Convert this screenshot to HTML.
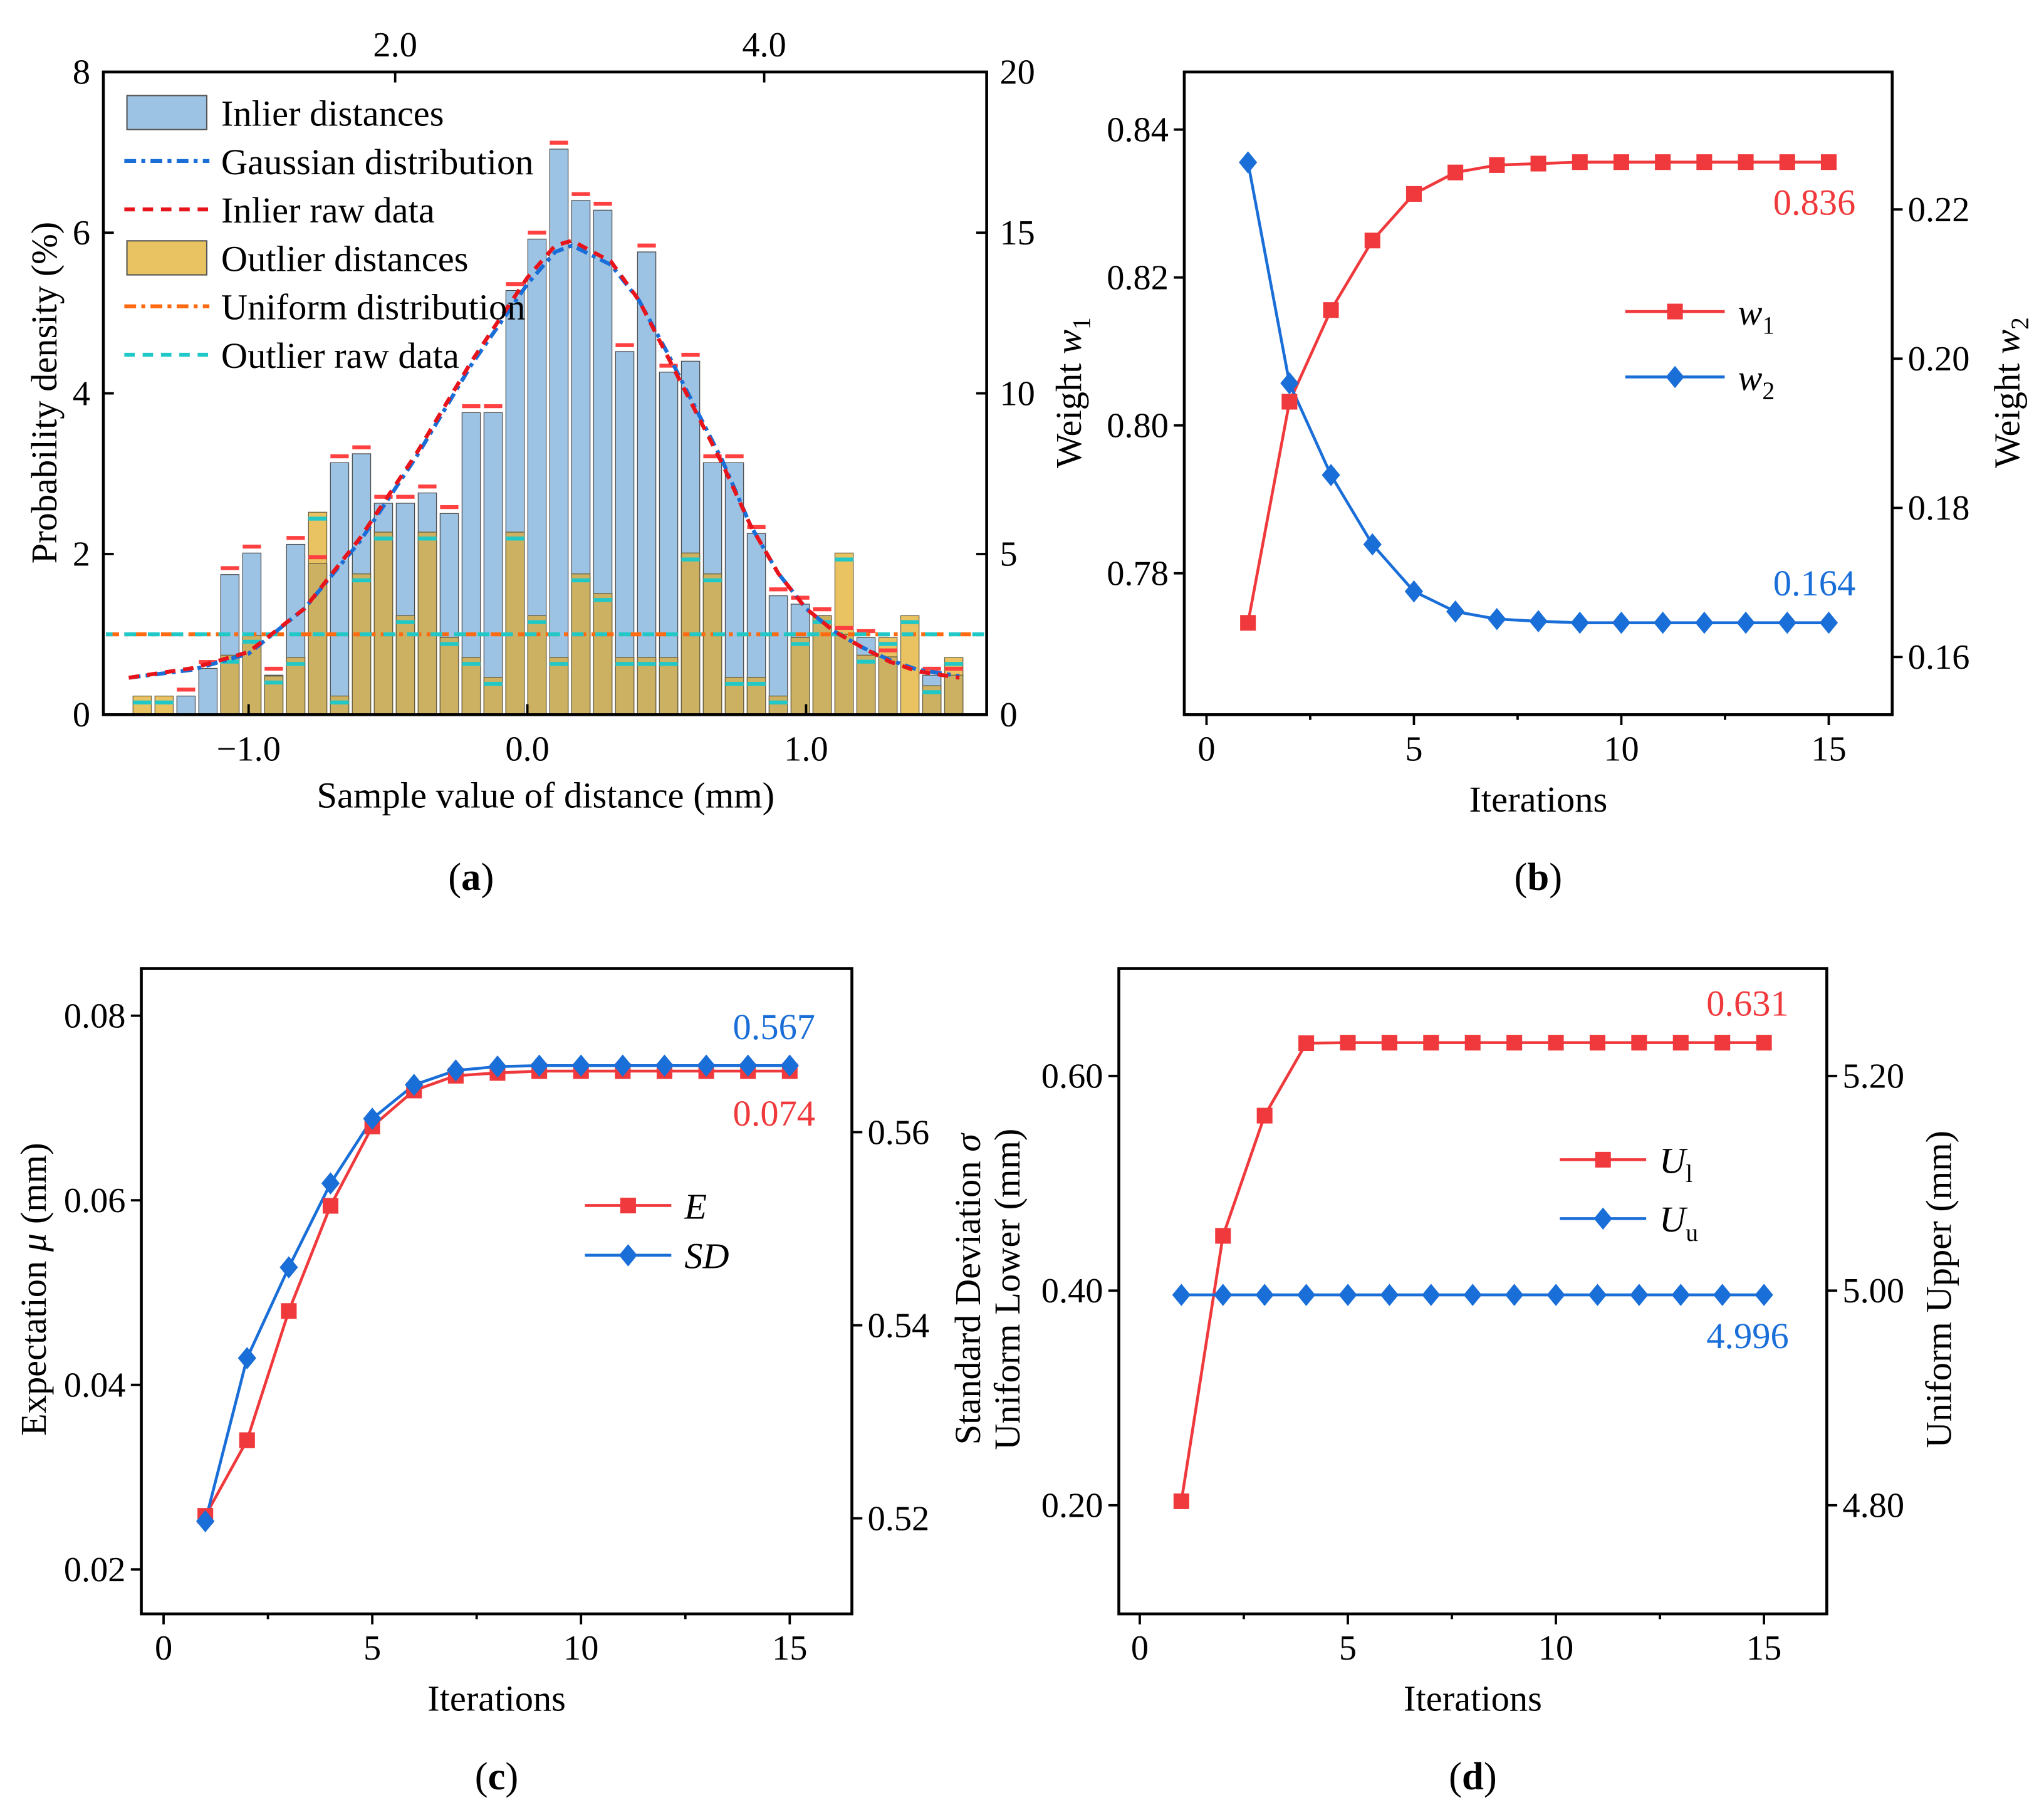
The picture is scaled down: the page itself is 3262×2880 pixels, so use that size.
<!DOCTYPE html>
<html><head><meta charset="utf-8"><style>
html,body{margin:0;padding:0;background:#fff;}
svg{display:block;font-family:"Liberation Serif","DejaVu Serif",serif;}
</style></head><body>
<svg id="fig" xmlns="http://www.w3.org/2000/svg" width="3262" height="2880" viewBox="0 0 1562 1379" preserveAspectRatio="none"></svg>
<script>
// ---------- Panel (a) data ----------
const aBinStart = -1.382;
const aBinWidth = 0.0787;
const aInlier = [0,0,0.58,1.44,4.36,5.03,1.23,5.3,4.7,7.84,8.12,6.58,6.58,6.9,6.26,9.4,9.4,13.2,14.8,17.6,16.0,15.7,11.3,14.4,10.66,11.0,7.84,7.84,5.64,3.7,3.44,3.08,2.5,2.4,1.8,0,1.23,1.23];
const aOutlier = [0.58,0.58,0,0,1.85,2.47,1.2,1.78,6.3,0.58,4.38,5.68,3.08,5.68,2.4,1.78,1.16,5.68,3.08,1.78,4.38,3.77,1.78,1.78,1.78,5.03,4.38,1.16,1.16,0.58,2.4,3.08,5.03,1.85,2.4,3.08,0.9,1.78];
const aCurveX = [-1.43,-1.2,-1.0,-0.8,-0.6,-0.4,-0.2,0.0,0.1,0.16,0.3,0.4,0.5,0.6,0.7,0.8,0.9,1.0,1.1,1.2,1.3,1.4,1.55];
const aGauss = [1.15,1.4,1.9,3.3,5.4,8.0,10.9,13.4,14.4,14.6,14.0,12.9,11.3,9.6,7.9,5.9,4.4,3.3,2.6,2.1,1.7,1.4,1.2];
const aInRaw = [1.15,1.45,1.95,3.3,5.5,8.1,11.0,13.6,14.6,14.75,14.1,12.9,11.2,9.5,7.8,5.9,4.4,3.3,2.6,2.1,1.65,1.35,1.15];
const aUniform = 1.0;
const aLeftTicks = [0,2,4,6,8];
const aRightTicks = [0,5,10,15,20];
const aBottomTicks = [-1.0,0.0,1.0];
const aTopTicks = [2.0,4.0];
// ---------- Panel (b) data ----------
const iters = [1,2,3,4,5,6,7,8,9,10,11,12,13,14,15];
const bW1 = [0.7733,0.8032,0.8156,0.825,0.8313,0.8342,0.8352,0.8354,0.8356,0.8356,0.8356,0.8356,0.8356,0.8356,0.8356];
const bW2 = [0.2263,0.1967,0.1844,0.1751,0.1688,0.1661,0.1651,0.1648,0.1646,0.1646,0.1646,0.1646,0.1646,0.1646,0.1646];
// ---------- Panel (c) data ----------
const cE = [0.0258,0.034,0.048,0.0594,0.068,0.0719,0.0735,0.0738,0.074,0.074,0.074,0.074,0.074,0.074,0.074];
const cSD = [0.5197,0.5366,0.546,0.5547,0.5614,0.5649,0.5664,0.5668,0.5669,0.5669,0.5669,0.5669,0.5669,0.5669,0.5669];
// ---------- Panel (d) data ----------
const dUl = [0.2037,0.451,0.563,0.6305,0.631,0.631,0.631,0.631,0.631,0.631,0.631,0.631,0.631,0.631,0.631];
const dUu = [4.996,4.996,4.996,4.996,4.996,4.996,4.996,4.996,4.996,4.996,4.996,4.996,4.996,4.996,4.996];

const NS="http://www.w3.org/2000/svg";
const svg=document.getElementById('fig');
const RED="#F0393C", BLUE="#1A6ED8";
const FT=27, FA=28;
function mk(tag,attrs,name,parent){
  const e=document.createElementNS(NS,tag);
  for(const k in attrs) e.setAttribute(k,attrs[k]);
  
  
  (parent||svg).appendChild(e);
  return e;
}
function tx(x,y,s,name,o){
  o=o||{};
  const a={x:x,y:y,'font-size':o.fs||FT,'text-anchor':o.anchor||'middle',fill:o.fill||'#000'};
  if(o.rot!==undefined) a.transform='rotate('+o.rot+' '+x+' '+y+')';
  const t=mk('text',a,name);
  t.innerHTML=s;
  return t;
}
function line(x1,y1,x2,y2,name,w){return mk('line',{x1:x1,y1:y1,x2:x2,y2:y2,stroke:'#000','stroke-width':w||1.8},name);}
function frame(l,t,r,b,name){mk('rect',{x:l,y:t,width:r-l,height:b-t,fill:'none',stroke:'#000','stroke-width':2.2},name);}
function sq(x,y,c,name){mk('rect',{x:x-6,y:y-6,width:12,height:12,fill:c},name);}
function dia(x,y,c,name){mk('polygon',{points:(x)+','+(y-8.5)+' '+(x+7)+','+y+' '+x+','+(y+8.5)+' '+(x-7)+','+y,fill:c},name);}

// ================= Panel (a) =================
(function(){
  const L=79,R=754,T=55,B=546;
  const xs=v=>403+v*213;
  const yR=v=>B-v*(B-T)/20;
  const yL=v=>B-v*(B-T)/8;
  const xTop=v=>302+(v-2)*141;
  const bw=14;
  aInlier.forEach((v,i)=>{
    const cx=xs(aBinStart+i*aBinWidth);
    if(v>0) mk('rect',{x:cx-bw/2,y:yR(v),width:bw,height:B-yR(v),fill:'#9DC3E4',stroke:'#4a4a4a','stroke-width':0.6},'inlier-bar');
  });
  aOutlier.forEach((v,i)=>{
    const cx=xs(aBinStart+i*aBinWidth);
    if(v>0){
      mk('rect',{x:cx-bw/2,y:yR(v),width:bw,height:B-yR(v),fill:'#E9C262',stroke:'#6a6040','stroke-width':0.6},'outlier-bar');
      const ov=Math.min(v,aInlier[i]);
      if(ov>0) mk('rect',{x:cx-bw/2,y:yR(ov),width:bw,height:B-yR(ov),fill:'#CCB162',stroke:'#6a6040','stroke-width':0.6},'overlap-bar');
    }
  });
  aInlier.forEach((v,i)=>{
    const cx=xs(aBinStart+i*aBinWidth);
    if(v>0) mk('rect',{x:cx-bw/2,y:yR(v+0.2)-1.5,width:bw,height:3,fill:'#FF4040'},'inlier-raw-marker');
  });
  aOutlier.forEach((v,i)=>{
    const cx=xs(aBinStart+i*aBinWidth);
    if(v>0) mk('rect',{x:cx-bw/2,y:yR(Math.max(v-0.2,0.1))-1.5,width:bw,height:3,fill:'#20C8C8'},'outlier-raw-marker');
  });
  mk('line',{x1:L+2,x2:R-2,y1:yL(aUniform),y2:yL(aUniform),stroke:'#FF6A10','stroke-width':3,'stroke-dasharray':'10 4 3 4'},'uniform-line');
  mk('line',{x1:L+2,x2:R-2,y1:yL(aUniform),y2:yL(aUniform),stroke:'#20C8C8','stroke-width':3,'stroke-dasharray':'9 9','stroke-dashoffset':4},'outlier-raw-line');
  const gp=aCurveX.map((x,i)=>xs(x)+','+yR(aGauss[i])).join(' ');
  mk('polyline',{points:gp,fill:'none',stroke:BLUE,'stroke-width':3,'stroke-dasharray':'9 4 3 4'},'gaussian-curve');
  const rp=aCurveX.map((x,i)=>xs(x)+','+yR(aInRaw[i])).join(' ');
  mk('polyline',{points:rp,fill:'none',stroke:'#E8141B','stroke-width':3,'stroke-dasharray':'8 6'},'inlier-raw-curve');
  frame(L,T,R,B,'plot-frame-a');
  aLeftTicks.forEach(v=>{line(L,yL(v),L+8,yL(v),'left-tick-a');tx(L-10,yL(v)+9,String(v),'left-tick-label-a',{anchor:'end'});});
  aRightTicks.forEach(v=>{line(R-8,yR(v),R,yR(v),'right-tick-a');tx(R+10,yR(v)+9,String(v),'right-tick-label-a',{anchor:'start'});});
  aBottomTicks.forEach(v=>{line(xs(v),B-8,xs(v),B,'bottom-tick-a');tx(xs(v),B+35,(v<0?'\u2212':'')+Math.abs(v).toFixed(1),'bottom-tick-label-a');});
  aTopTicks.forEach(v=>{line(xTop(v),T,xTop(v),T+8,'top-tick-a');tx(xTop(v),T-12,v.toFixed(1),'top-tick-label-a');});
  tx(43,300,'Probability density (%)','y-axis-title-a',{rot:-90,fs:FA});
  tx(417,617,'Sample value of distance (mm)','x-axis-title-a',{fs:FA});
  tx(360,680,'(<tspan font-weight="bold">a</tspan>)','panel-label-a',{fs:30});
  const ly=[86,123,160,197,234,271];
  const names=['Inlier distances','Gaussian distribution','Inlier raw data','Outlier distances','Uniform distribution','Outlier raw data'];
  mk('rect',{x:97,y:ly[0]-13,width:61,height:26,fill:'#9DC3E4',stroke:'#555','stroke-width':1},'legend-inlier-swatch');
  mk('line',{x1:95,x2:160,y1:ly[1],y2:ly[1],stroke:BLUE,'stroke-width':3,'stroke-dasharray':'9 4 3 4'},'legend-gaussian-swatch');
  mk('line',{x1:95,x2:160,y1:ly[2],y2:ly[2],stroke:'#E8141B','stroke-width':3,'stroke-dasharray':'8 6'},'legend-inlier-raw-swatch');
  mk('rect',{x:97,y:ly[3]-13,width:61,height:26,fill:'#E9C262',stroke:'#555','stroke-width':1},'legend-outlier-swatch');
  mk('line',{x1:95,x2:160,y1:ly[4],y2:ly[4],stroke:'#FF6A10','stroke-width':3,'stroke-dasharray':'9 4 3 4'},'legend-uniform-swatch');
  mk('line',{x1:95,x2:160,y1:ly[5],y2:ly[5],stroke:'#20C8C8','stroke-width':3,'stroke-dasharray':'8 6'},'legend-outlier-raw-swatch');
  names.forEach((n,i)=>tx(169,ly[i]+10,n,'legend-entry-a',{anchor:'start',fs:FA}));
})();

// ================= generic line panel =================
function panel(c){
  const xs=v=>c.x0+v*c.xk;
  const yL=v=>c.lRef+(c.lVal-v)*c.lk;
  const yR=v=>c.rRef+(c.rVal-v)*c.rk;
  frame(c.L,c.T,c.R,c.B,'plot-frame-'+c.id);
  const p1=iters.map((it,i)=>xs(it)+','+yL(c.s1[i])).join(' ');
  mk('polyline',{points:p1,fill:'none',stroke:RED,'stroke-width':2.2},'series1-line-'+c.id);
  const p2=iters.map((it,i)=>xs(it)+','+yR(c.s2[i])).join(' ');
  mk('polyline',{points:p2,fill:'none',stroke:BLUE,'stroke-width':2.2},'series2-line-'+c.id);
  const drawS1=()=>iters.forEach((it,i)=>sq(xs(it),yL(c.s1[i]),RED,'series1-point-'+c.id));
  const drawS2=()=>iters.forEach((it,i)=>dia(xs(it),yR(c.s2[i]),BLUE,'series2-point-'+c.id));
  if(c.blueTop){drawS1();drawS2();}else{drawS2();drawS1();}
  [0,5,10,15].forEach(v=>{line(xs(v),c.B,xs(v),c.B+8,'x-tick-'+c.id);tx(xs(v),c.B+35,String(v),'x-tick-label-'+c.id);});
  [2.5,7.5,12.5].forEach(v=>line(xs(v),c.B,xs(v),c.B+4,'x-minor-tick-'+c.id));
  c.lTicks.forEach(v=>{line(c.L-8,yL(v),c.L,yL(v),'left-tick-'+c.id);tx(c.L-12,yL(v)+9,v.toFixed(2),'left-tick-label-'+c.id,{anchor:'end'});});
  c.rTicks.forEach(v=>{line(c.R,yR(v),c.R+8,yR(v),'right-tick-'+c.id);tx(c.R+12,yR(v)+9,v.toFixed(2),'right-tick-label-'+c.id,{anchor:'start'});});
  tx((c.L+c.R)/2,c.B+74,'Iterations','x-axis-title-'+c.id,{fs:FA});
  tx((c.L+c.R)/2,c.B+134,'(<tspan font-weight="bold">'+c.id+'</tspan>)','panel-label-'+c.id,{fs:30});
  c.leg.forEach((lg,i)=>{
    const y=c.legY[i];
    mk('line',{x1:c.legX,x2:c.legX+c.legW,y1:y,y2:y,stroke:lg.c,'stroke-width':2.2},'legend-line-'+c.id);
    if(i===0) sq(c.legX+c.legW/2,y,lg.c,'legend-marker-'+c.id); else dia(c.legX+c.legW/2,y,lg.c,'legend-marker-'+c.id);
    tx(c.legX+c.legW+10,y+10,lg.t,'legend-entry-'+c.id,{anchor:'start',fs:28});
  });
  c.ann.forEach(a=>tx(a.x,a.y,a.t,'value-annotation-'+c.id,{anchor:'end',fill:a.c,fs:28}));
}

panel({id:'b',L:905,T:55,R:1446,B:546,x0:922,xk:31.7,
  lRef:99,lVal:0.84,lk:5650,rRef:160,rVal:0.22,rk:5700,s1:bW1,s2:bW2,blueTop:true,
  lTicks:[0.78,0.80,0.82,0.84],rTicks:[0.16,0.18,0.20,0.22],
  leg:[{c:RED,t:'<tspan font-style="italic">w</tspan><tspan font-size="19" dy="7">1</tspan>'},{c:BLUE,t:'<tspan font-style="italic">w</tspan><tspan font-size="19" dy="7">2</tspan>'}],
  legX:1242,legW:76,legY:[238,288],
  ann:[{x:1418,y:164,t:'0.836',c:RED},{x:1418,y:455,t:'0.164',c:BLUE}]});
tx(826,300,'Weight <tspan font-style="italic">w</tspan><tspan font-size="19" dy="7">1</tspan>','y-axis-title-b-left',{rot:-90,fs:FA});
tx(1543,300,'Weight <tspan font-style="italic">w</tspan><tspan font-size="19" dy="7">2</tspan>','y-axis-title-b-right',{rot:-90,fs:FA});

panel({id:'c',L:108,T:740,R:651,B:1233,x0:125,xk:31.9,
  lRef:776,lVal:0.08,lk:7050,rRef:865,rVal:0.56,rk:7375,s1:cE,s2:cSD,blueTop:true,
  lTicks:[0.02,0.04,0.06,0.08],rTicks:[0.52,0.54,0.56],
  leg:[{c:RED,t:'<tspan font-style="italic">E</tspan>'},{c:BLUE,t:'<tspan font-style="italic">SD</tspan>'}],
  legX:447,legW:66,legY:[921,959],
  ann:[{x:623,y:794,t:'0.567',c:BLUE},{x:623,y:860,t:'0.074',c:RED}]});
tx(35,985,'Expectation <tspan font-style="italic">μ</tspan> (mm)','y-axis-title-c-left',{rot:-90,fs:FA});
tx(749,985,'Standard Deviation <tspan font-style="italic">σ</tspan>','y-axis-title-c-right',{rot:-90,fs:FA});

panel({id:'d',L:855,T:740,R:1396,B:1233,x0:871,xk:31.8,
  lRef:822,lVal:0.60,lk:820,rRef:822,rVal:5.20,rk:820,s1:dUl,s2:dUu,blueTop:false,
  lTicks:[0.20,0.40,0.60],rTicks:[4.80,5.00,5.20],
  leg:[{c:RED,t:'<tspan font-style="italic">U</tspan><tspan font-size="19" dy="7">l</tspan>'},{c:BLUE,t:'<tspan font-style="italic">U</tspan><tspan font-size="19" dy="7">u</tspan>'}],
  legX:1192,legW:66,legY:[886,931],
  ann:[{x:1367,y:776,t:'0.631',c:RED},{x:1367,y:1030,t:'4.996',c:BLUE}]});
tx(779,985,'Uniform Lower (mm)','y-axis-title-d-left',{rot:-90,fs:FA});
tx(1491,985,'Uniform Upper (mm)','y-axis-title-d-right',{rot:-90,fs:FA});
</script>
</body></html>
